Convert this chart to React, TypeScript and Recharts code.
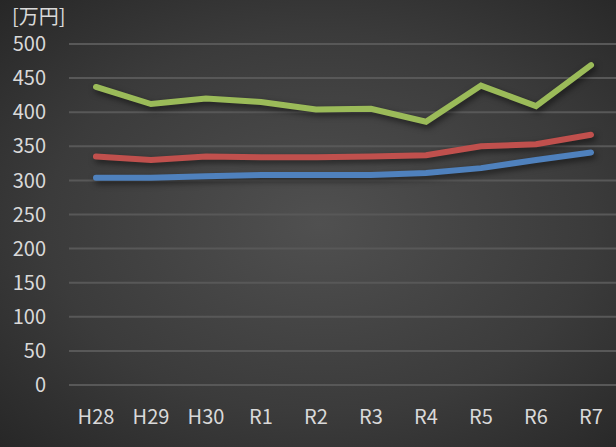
import React from 'react';
import { LineChart, Line, XAxis, YAxis, CartesianGrid } from 'recharts';

const years = ['H28', 'H29', 'H30', 'R1', 'R2', 'R3', 'R4', 'R5', 'R6', 'R7'];
const greenValues = [437, 412, 420, 415, 404, 405, 386, 439, 409, 469];
const redValues = [335, 330, 335, 334, 334, 335, 337, 350, 353, 367];
const blueValues = [304, 304, 306, 308, 308, 308, 311, 318, 330, 341];
const yTicks = [0, 50, 100, 150, 200, 250, 300, 350, 400, 450, 500];

const data = years.map((name, i) => ({
  name,
  blue: blueValues[i],
  red: redValues[i],
  green: greenValues[i],
}));

const font = '"Noto Sans CJK JP", "Noto Sans", sans-serif';
const tickStyle = { fill: '#d9d9d9', fontSize: 20, fontFamily: font };

const App: React.FC = () => {
  return (
    <div
      style={{
        position: 'absolute',
        left: 0,
        top: 0,
        width: 616,
        height: 447,
        overflow: 'hidden',
        background: 'radial-gradient(ellipse at 52% 50%, #505050 0%, #3b3b3b 60%, #272727 100%)',
      }}
    >
      <style>{`.recharts-line-curve { filter: drop-shadow(2px 3px 3px rgba(0,0,0,0.55)); }`}</style>
      <div
        style={{
          position: 'absolute',
          left: 12,
          top: 6,
          color: '#d9d9d9',
          fontSize: 20,
          fontFamily: font,
          lineHeight: '20px',
        }}
      >
        [万円]
      </div>
      <LineChart width={618} height={447} data={data} margin={{ top: 44, right: 0, bottom: 0, left: 0 }}>
        <CartesianGrid vertical={false} stroke="#585858" strokeWidth={2} />
        <XAxis
          dataKey="name"
          axisLine={false}
          tickLine={false}
          tickSize={0}
          tickMargin={25}
          height={62}
          padding={{ left: 27, right: 27 }}
          tick={tickStyle}
        />
        <YAxis
          domain={[0, 500]}
          ticks={yTicks}
          axisLine={false}
          tickLine={false}
          tickSize={0}
          tickMargin={23}
          width={69}
          tick={tickStyle}
        />
        <Line type="linear" dataKey="blue" stroke="#4f81bd" strokeWidth={6} strokeLinecap="round" dot={false} isAnimationActive={false} />
        <Line type="linear" dataKey="red" stroke="#c0504d" strokeWidth={6} strokeLinecap="round" dot={false} isAnimationActive={false} />
        <Line type="linear" dataKey="green" stroke="#9bbb59" strokeWidth={6} strokeLinecap="round" dot={false} isAnimationActive={false} />
      </LineChart>
    </div>
  );
};

export default App;
